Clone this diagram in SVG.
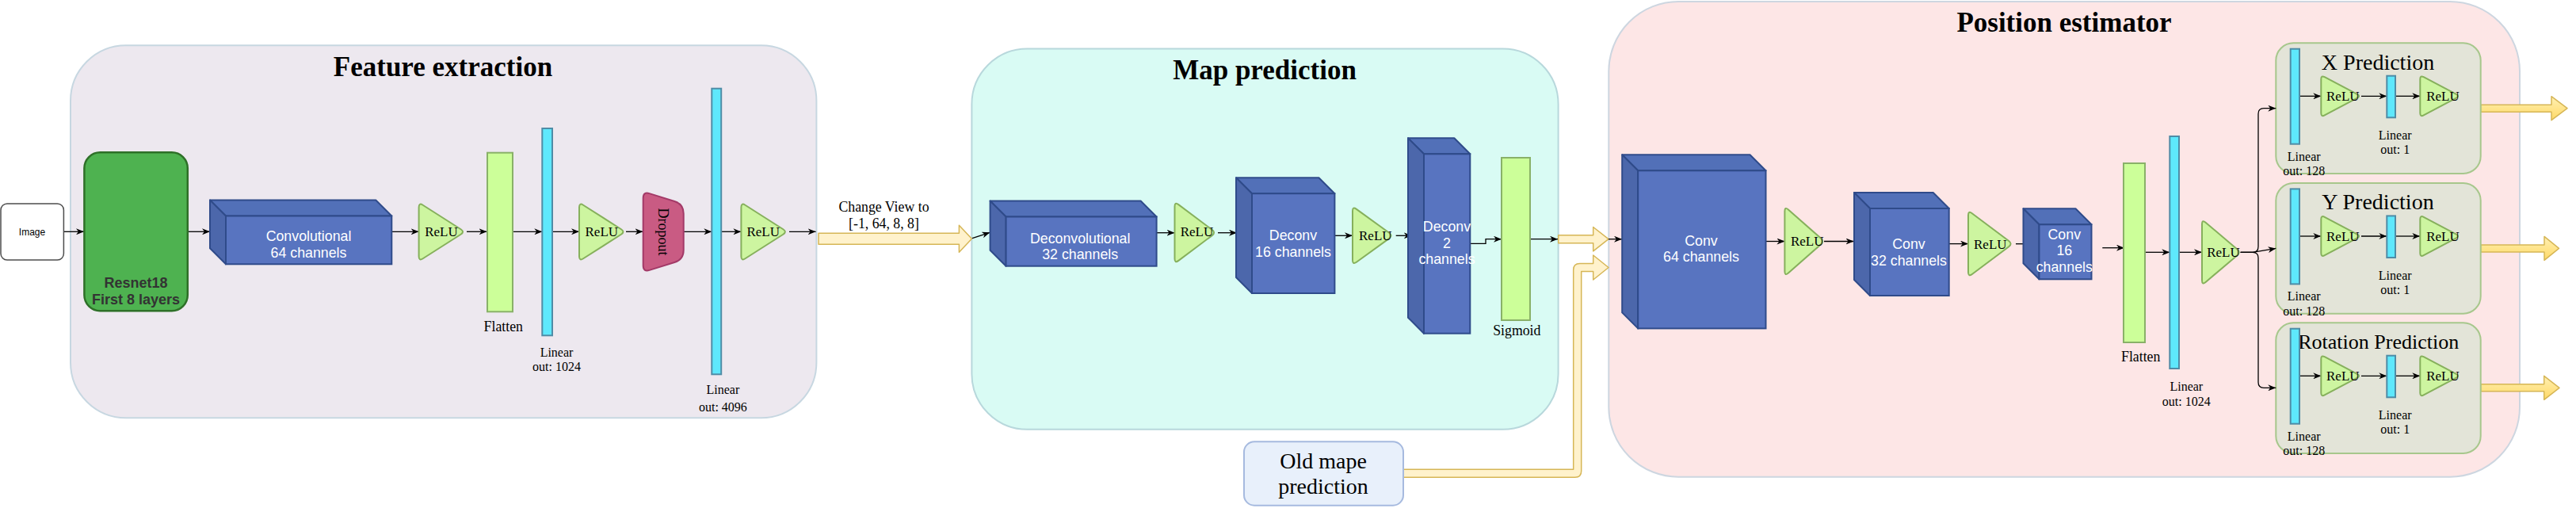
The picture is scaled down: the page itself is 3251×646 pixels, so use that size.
<svg xmlns="http://www.w3.org/2000/svg" width="3251" height="646" viewBox="0 0 3251 646">
<defs>
<style>
.serif{font-family:"Liberation Serif","Times New Roman",serif;}
.sans{font-family:"Liberation Sans",Arial,sans-serif;}
.conn{fill:none;stroke:#000;stroke-width:1.3;marker-end:url(#ah);}
.relu{fill:#cdf5a0;stroke:#86b05c;stroke-width:2;}
.lin{fill:#5ee8fc;stroke:#4f8ca6;stroke-width:2;}
.flat{fill:#ccff99;stroke:#89b168;stroke-width:2;}
.cf{fill:#5874c0;stroke:#2f4b8a;stroke-width:2;}
.ct{fill:#5270b8;stroke:#2f4b8a;stroke-width:2;stroke-linejoin:round;}
.cl{fill:#4c67ab;stroke:#2f4b8a;stroke-width:2;stroke-linejoin:round;}
.ctxt{font-family:"Liberation Sans",Arial,sans-serif;font-size:17.8px;fill:#fff;text-anchor:middle;}
.rtxt{font-family:"Liberation Serif","Times New Roman",serif;font-size:17px;fill:#000;text-anchor:middle;}
.lbl{font-family:"Liberation Serif","Times New Roman",serif;font-size:16px;fill:#000;text-anchor:middle;}
.lbl18{font-family:"Liberation Serif","Times New Roman",serif;font-size:17.8px;fill:#000;text-anchor:middle;}
.title{font-family:"Liberation Serif","Times New Roman",serif;font-size:35px;font-weight:bold;fill:#000;text-anchor:middle;}
.ptitle{font-family:"Liberation Serif","Times New Roman",serif;font-size:28px;fill:#000;text-anchor:middle;}
.yarrow{fill:#fff2cc;stroke:#d6b656;stroke-width:1.5;stroke-linejoin:round;}
.oarrow{fill:url(#yg);stroke:#d6b656;stroke-width:1.5;stroke-linejoin:round;}
.pbox{fill:#e3e4d8;stroke:#a7c78c;stroke-width:2;}
</style>
<marker id="ah" viewBox="0 0 10 8" refX="10" refY="4" markerWidth="10" markerHeight="8" markerUnits="userSpaceOnUse" orient="auto">
<path d="M0,0 L10,4 L0,8 L3,4 Z" fill="#000"/>
</marker>
<linearGradient id="yg" x1="0" y1="0" x2="0" y2="1">
<stop offset="0" stop-color="#fff0b3"/>
<stop offset="1" stop-color="#ffd966"/>
</linearGradient>
<path id="relu58" d="M0,6 Q0,0 5.06,3.22 L52.94,33.78 Q58,37 52.94,40.22 L5.06,70.78 Q0,74 0,68 Z"/>
<path id="relu50s" d="M0,5 Q0,0 4.42,2.34 L45.58,24.16 Q50,26.5 45.58,28.84 L4.42,50.66 Q0,53 0,48 Z"/>
</defs>

<!-- containers -->
<g id="containers">
<rect id="feature-extraction" x="89" y="57.3" width="941.4" height="470" rx="70" fill="#ede8ef" stroke="#c7d7e1" stroke-width="2"/>
<rect id="map-prediction" x="1226.4" y="61.5" width="740.2" height="480.3" rx="70" fill="#d9fbf4" stroke="#b8d8dc" stroke-width="2"/>
<rect id="position-estimator" x="2030.3" y="2" width="1149.7" height="599.7" rx="88" fill="#fde6e6" stroke="#cdd6e0" stroke-width="2"/>
<text class="title" x="559" y="96">Feature extraction</text>
<text class="title" x="1596" y="100">Map prediction</text>
<text class="title" x="2605" y="39.5">Position estimator</text>
</g>

<!-- yellow flow arrows -->
<g id="flow-arrows">
<path class="yarrow" d="M1033,294.3 H1210.4 V284.3 L1226.4,301.3 L1210.4,318.3 V308.3 H1033 Z"/>
<path class="yarrow" d="M1966.7,296.7 H2010.7 V286.5 L2030,301.7 L2010.7,316.9 V306.7 H1966.7 Z"/>
<path class="yarrow" d="M1771,592.3 H1985.7 V340.5 Q1985.7,332.5 1993.7,332.5 H2010.7 V322 L2030,337.5 L2010.7,353 V342.5 H1995.7 V594.3 Q1995.7,602.3 1987.7,602.3 H1771 Z"/>
<path class="oarrow" d="M3130.7,132.2 H3220 V121.7 L3240,136.7 L3220,151.7 V141.2 H3130.7 Z"/>
<path class="oarrow" d="M3130.7,308.9 H3211 V298.4 L3229.5,313.4 L3211,328.4 V317.9 H3130.7 Z"/>
<path class="oarrow" d="M3130.7,484.8 H3210.7 V474.3 L3230,489.3 L3210.7,504.3 V493.8 H3130.7 Z"/>
</g>

<!-- prediction boxes backgrounds -->
<g id="x-prediction">
<rect class="pbox" x="2872.3" y="54.3" width="258.4" height="164.7" rx="22"/>
<text class="ptitle" x="3001" y="87.7">X Prediction</text>
</g>
<g id="y-prediction">
<rect class="pbox" x="2872.3" y="231" width="258.4" height="164.7" rx="22"/>
<text class="ptitle" x="3001" y="264.4">Y Prediction</text>
</g>
<g id="rotation-prediction">
<rect class="pbox" x="2872.3" y="407.3" width="258.4" height="164.7" rx="22"/>
<text class="ptitle" x="3001.7" y="440" style="font-size:26px">Rotation Prediction</text>
</g>

<!-- connectors -->
<g id="connectors">
<line class="conn" x1="80.4" y1="292.3" x2="106" y2="292.3"/>
<line class="conn" x1="237" y1="292.3" x2="265" y2="292.3"/>
<line class="conn" x1="494.3" y1="292.3" x2="528.6" y2="292.3"/>
<line class="conn" x1="589" y1="292.3" x2="614.5" y2="292.3"/>
<line class="conn" x1="647" y1="292.3" x2="684.3" y2="292.3"/>
<line class="conn" x1="697" y1="292.3" x2="731" y2="292.3"/>
<line class="conn" x1="790" y1="292.3" x2="811.5" y2="292.3"/>
<line class="conn" x1="862.7" y1="292.3" x2="898.3" y2="292.3"/>
<line class="conn" x1="910.2" y1="292.3" x2="935.4" y2="292.3"/>
<line class="conn" x1="996" y1="292.3" x2="1029.6" y2="292.3"/>
<line class="conn" x1="1227" y1="300.7" x2="1249.3" y2="293.3"/>
<line class="conn" x1="1459.6" y1="293.7" x2="1482.5" y2="293.7"/>
<line class="conn" x1="1537" y1="293.7" x2="1561" y2="293.7"/>
<line class="conn" x1="1684.4" y1="297.3" x2="1707" y2="297.3"/>
<line class="conn" x1="1761.7" y1="297.3" x2="1781.7" y2="297.3"/>
<path class="conn" d="M1855.3,307.3 H1875 V301.7 H1895"/>
<line class="conn" x1="1931" y1="301.7" x2="1966" y2="301.7"/>
<line class="conn" x1="2030" y1="301.7" x2="2047" y2="301.7"/>
<line class="conn" x1="2228.5" y1="304.5" x2="2252.4" y2="304.5"/>
<line class="conn" x1="2302" y1="304.5" x2="2339.5" y2="304.5"/>
<line class="conn" x1="2459.7" y1="307.6" x2="2484" y2="307.6"/>
<line class="conn" x1="2544" y1="307.7" x2="2566" y2="307.7"/>
<line class="conn" x1="2653.3" y1="312.7" x2="2681" y2="312.7"/>
<line class="conn" x1="2707" y1="318.3" x2="2738.3" y2="318.3"/>
<line class="conn" x1="2750" y1="318.3" x2="2779" y2="318.3"/>
<path class="conn" d="M2827.7,318.3 H2843 Q2850,318.3 2850,311.3 V143.7 Q2850,136.7 2857,136.7 H2872.3"/>
<path class="conn" d="M2827.7,318.3 H2843 L2872.3,313.4"/>
<path class="conn" d="M2827.7,318.3 H2843 Q2850,318.3 2850,325.3 V482.3 Q2850,489.3 2857,489.3 H2872.3"/>
<g id="pred-conns-x">
<line class="conn" x1="2902" y1="121.3" x2="2929.3" y2="121.3"/>
<line class="conn" x1="2980" y1="121.3" x2="3012.3" y2="121.3"/>
<line class="conn" x1="3023" y1="121.3" x2="3054.3" y2="121.3"/>
</g>
<use href="#pred-conns-x" transform="translate(0,176.7)"/>
<use href="#pred-conns-x" transform="translate(0,353)"/>
</g>

<!-- nodes: feature extraction -->
<g id="image">
<rect x="1" y="257" width="79.4" height="71" rx="8" fill="#fff" stroke="#4d4d4d" stroke-width="1.5"/>
<text class="sans" x="40.5" y="297" font-size="12" text-anchor="middle" fill="#000">Image</text>
</g>
<g id="resnet18">
<rect x="106.4" y="192.3" width="130.4" height="200" rx="20" fill="#4eb250" stroke="#2e7028" stroke-width="2.5"/>
<text class="sans" x="171.6" y="363.3" font-size="18" font-weight="bold" fill="#333" text-anchor="middle">Resnet18</text>
<text class="sans" x="171.6" y="384.3" font-size="18" font-weight="bold" fill="#333" text-anchor="middle">First 8 layers</text>
</g>
<g id="conv-fe">
<path class="ct" d="M265,252.5 H474.3 L494.3,272.5 H285 Z"/>
<path class="cl" d="M265,252.5 L285,272.5 V333.3 L265,313.3 Z"/>
<rect class="cf" x="285" y="272.5" width="209.3" height="60.8"/>
<text class="ctxt" x="389.5" y="304">Convolutional</text>
<text class="ctxt" x="389.5" y="325">64 channels</text>
</g>
<g id="relu-fe-1">
<use href="#relu58" class="relu" transform="translate(528.6,255.5)"/>
<text class="rtxt" x="557" y="298">ReLU</text>
</g>
<g id="flatten-fe">
<rect class="flat" x="615" y="192.7" width="32" height="200.6"/>
<text class="lbl18" x="635.3" y="418">Flatten</text>
</g>
<g id="linear-fe-1">
<rect class="lin" x="684.3" y="162" width="12.7" height="261.3"/>
<text class="lbl" x="702.5" y="450">Linear</text>
<text class="lbl" x="702.5" y="468.3">out: 1024</text>
</g>
<g id="relu-fe-2">
<use href="#relu58" class="relu" transform="translate(731,255.5)"/>
<text class="rtxt" x="759.3" y="298.3">ReLU</text>
</g>
<g id="dropout">
<path d="M811.7,250 Q811.7,241.7 819.6,244.1 L851.3,254 Q862.7,257.5 862.7,269.5 L862.7,315.5 Q862.7,327.5 851.3,331 L819.6,340.9 Q811.7,343.3 811.7,335 Z" fill="#c95b83" stroke="#a33a68" stroke-width="2"/>
<text class="serif" transform="translate(836.5,292.5) rotate(90)" x="0" y="6" font-size="18" text-anchor="middle" fill="#000">Dropout</text>
</g>
<g id="linear-fe-2">
<rect class="lin" x="898.3" y="111.7" width="11.9" height="360.6"/>
<text class="lbl" x="912.4" y="496.7">Linear</text>
<text class="lbl" x="912.4" y="519.3">out: 4096</text>
</g>
<g id="relu-fe-3">
<use href="#relu58" class="relu" transform="translate(935.4,255.5)"/>
<text class="rtxt" x="963.2" y="298">ReLU</text>
</g>
<g id="change-view-label">
<text class="lbl18" x="1115.5" y="267.3">Change View to</text>
<text class="lbl18" x="1115.5" y="288.3">[-1, 64, 8, 8]</text>
</g>

<!-- nodes: map prediction -->
<g id="deconv-32">
<path class="ct" d="M1249.6,253.5 H1439.6 L1459.6,273.5 H1269.6 Z"/>
<path class="cl" d="M1249.6,253.5 L1269.6,273.5 V335.7 L1249.6,315.7 Z"/>
<rect class="cf" x="1269.6" y="273.5" width="190" height="62.2"/>
<text class="ctxt" x="1363.2" y="306.7">Deconvolutional</text>
<text class="ctxt" x="1363.2" y="327.3">32 channels</text>
</g>
<g id="relu-map-1">
<path class="relu" transform="translate(1482.5,254.5)" d="M0,6 Q0,0 4.8,3.6 L47.2,35.4 Q52,39 47.2,42.6 L4.8,74.4 Q0,78 0,72 Z"/>
<text class="rtxt" x="1510.5" y="298.3">ReLU</text>
</g>
<g id="deconv-16">
<path class="ct" d="M1560,224.2 H1664.4 L1684.4,244.2 H1580 Z"/>
<path class="cl" d="M1560,224.2 L1580,244.2 V370 L1560,350 Z"/>
<rect class="cf" x="1580" y="244.2" width="104.4" height="125.8"/>
<text class="ctxt" x="1632" y="303.4">Deconv</text>
<text class="ctxt" x="1632" y="323.9">16 channels</text>
</g>
<g id="relu-map-2">
<path class="relu" transform="translate(1707,260.3)" d="M0,6 Q0,0 4.86,3.52 L46.14,33.48 Q51,37 46.14,40.52 L4.86,70.48 Q0,74 0,68 Z"/>
<text class="rtxt" x="1735.8" y="303.3">ReLU</text>
</g>
<g id="deconv-2">
<path class="ct" d="M1777,174.3 H1835.3 L1855.3,194.3 H1797 Z"/>
<path class="cl" d="M1777,174.3 L1797,194.3 V420.7 L1777,400.7 Z"/>
<rect class="cf" x="1797" y="194.3" width="58.3" height="226.4"/>
<text class="ctxt" x="1826" y="291.7">Deconv</text>
<text class="ctxt" x="1826" y="312.7">2</text>
<text class="ctxt" x="1826" y="333.3">channels</text>
</g>
<g id="sigmoid">
<rect class="flat" x="1895" y="199" width="36" height="205"/>
<text class="lbl18" x="1914.3" y="422.7">Sigmoid</text>
</g>
<g id="old-map">
<rect x="1570" y="557.3" width="201" height="80.4" rx="13" fill="#e8f0fb" stroke="#a6badf" stroke-width="2"/>
<text class="serif" x="1670" y="590.7" font-size="28" text-anchor="middle" fill="#000">Old mape</text>
<text class="serif" x="1670" y="623.3" font-size="28" text-anchor="middle" fill="#000">prediction</text>
</g>

<!-- nodes: position estimator -->
<g id="conv-64">
<path class="ct" d="M2047.2,195.3 H2208.5 L2228.5,215.3 H2067.2 Z"/>
<path class="cl" d="M2047.2,195.3 L2067.2,215.3 V414.4 L2047.2,394.4 Z"/>
<rect class="cf" x="2067.2" y="215.3" width="161.3" height="199.1"/>
<text class="ctxt" x="2147" y="310.4">Conv</text>
<text class="ctxt" x="2147" y="330.4">64 channels</text>
</g>
<g id="relu-pos-1">
<path class="relu" transform="translate(2252.4,260.5)" d="M0,6 Q0,0 4.5,3.96 L45.5,40.04 Q50,44 45.5,47.96 L4.5,84.04 Q0,88 0,82 Z"/>
<text class="rtxt" x="2280.7" y="310.4">ReLU</text>
</g>
<g id="conv-32">
<path class="ct" d="M2340,243 H2439.7 L2459.7,263 H2360 Z"/>
<path class="cl" d="M2340,243 L2360,263 V373 L2340,353 Z"/>
<rect class="cf" x="2360" y="263" width="99.7" height="110"/>
<text class="ctxt" x="2409" y="314.4">Conv</text>
<text class="ctxt" x="2409" y="335.3">32 channels</text>
</g>
<g id="relu-pos-2">
<path class="relu" transform="translate(2484,265.6)" d="M0,6 Q0,0 4.8,3.6 L51.2,38.4 Q56,42 51.2,45.6 L4.8,80.4 Q0,84 0,78 Z"/>
<text class="rtxt" x="2511.8" y="314.4">ReLU</text>
</g>
<g id="conv-16">
<path class="ct" d="M2553.5,263.3 H2619.5 L2639.5,283.3 H2573.5 Z"/>
<path class="cl" d="M2553.5,263.3 L2573.5,283.3 V352.3 L2553.5,332.3 Z"/>
<rect class="cf" x="2573.5" y="283.3" width="66" height="69"/>
<text class="ctxt" x="2605.3" y="301.7">Conv</text>
<text class="ctxt" x="2605.3" y="322.3">16</text>
<text class="ctxt" x="2605.3" y="342.7">channels</text>
</g>
<g id="flatten-pos">
<rect class="flat" x="2680" y="206" width="27" height="226"/>
<text class="lbl18" x="2701.7" y="456">Flatten</text>
</g>
<g id="linear-pos">
<rect class="lin" x="2738.3" y="172" width="11.7" height="293"/>
<text class="lbl" x="2759.3" y="492.7">Linear</text>
<text class="lbl" x="2759.3" y="511.7">out: 1024</text>
</g>
<g id="relu-pos-3">
<path class="relu" transform="translate(2779,276.8)" d="M0,6 Q0,0 4.58,3.88 L44.42,37.62 Q49,41.5 44.42,45.38 L4.58,79.12 Q0,83 0,77 Z"/>
<text class="rtxt" x="2806" y="324">ReLU</text>
</g>

<!-- prediction heads -->
<g id="x-head">
<g id="x-linear-128">
<rect class="lin" x="2890.7" y="61.7" width="11.3" height="120"/>
<text class="lbl" x="2907.7" y="202.7">Linear</text>
<text class="lbl" x="2907.7" y="221">out: 128</text>
</g>
<g id="x-relu-1">
<use href="#relu50s" class="relu" transform="translate(2929.3,94.8)"/>
<text class="rtxt" x="2956.8" y="127.3">ReLU</text>
</g>
<g id="x-linear-1">
<rect class="lin" x="3012.3" y="95.7" width="10.7" height="52.6"/>
<text class="lbl" x="3022.7" y="176">Linear</text>
<text class="lbl" x="3022.7" y="194.3">out: 1</text>
</g>
<g id="x-relu-2">
<use href="#relu50s" class="relu" transform="translate(3054.3,94.8)"/>
<text class="rtxt" x="3083" y="127.3">ReLU</text>
</g>
</g>
<g id="y-head" transform="translate(0,176.7)">
<g id="y-linear-128">
<rect class="lin" x="2890.7" y="61.7" width="11.3" height="120"/>
<text class="lbl" x="2907.7" y="202.7">Linear</text>
<text class="lbl" x="2907.7" y="221">out: 128</text>
</g>
<g id="y-relu-1">
<use href="#relu50s" class="relu" transform="translate(2929.3,94.8)"/>
<text class="rtxt" x="2956.8" y="127.3">ReLU</text>
</g>
<g id="y-linear-1">
<rect class="lin" x="3012.3" y="95.7" width="10.7" height="52.6"/>
<text class="lbl" x="3022.7" y="176">Linear</text>
<text class="lbl" x="3022.7" y="194.3">out: 1</text>
</g>
<g id="y-relu-2">
<use href="#relu50s" class="relu" transform="translate(3054.3,94.8)"/>
<text class="rtxt" x="3083" y="127.3">ReLU</text>
</g>
</g>
<g id="rot-head" transform="translate(0,353)">
<g id="rot-linear-128">
<rect class="lin" x="2890.7" y="61.7" width="11.3" height="120"/>
<text class="lbl" x="2907.7" y="202.7">Linear</text>
<text class="lbl" x="2907.7" y="221">out: 128</text>
</g>
<g id="rot-relu-1">
<use href="#relu50s" class="relu" transform="translate(2929.3,94.8)"/>
<text class="rtxt" x="2956.8" y="127.3">ReLU</text>
</g>
<g id="rot-linear-1">
<rect class="lin" x="3012.3" y="95.7" width="10.7" height="52.6"/>
<text class="lbl" x="3022.7" y="176">Linear</text>
<text class="lbl" x="3022.7" y="194.3">out: 1</text>
</g>
<g id="rot-relu-2">
<use href="#relu50s" class="relu" transform="translate(3054.3,94.8)"/>
<text class="rtxt" x="3083" y="127.3">ReLU</text>
</g>
</g>
</svg>
